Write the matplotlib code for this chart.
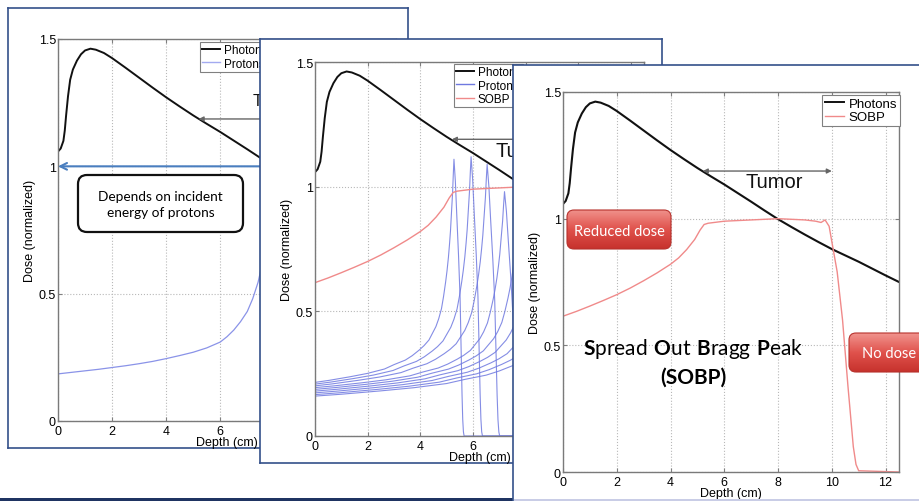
import numpy as np
import matplotlib
matplotlib.use("Agg")
import matplotlib.pyplot as plt
from matplotlib.patches import FancyBboxPatch, Rectangle
from matplotlib.transforms import IdentityTransform
from matplotlib.colors import LinearSegmentedColormap

plt.rcParams['font.family'] = 'Liberation Sans'
plt.rcParams['mathtext.fontset'] = 'custom'
plt.rcParams['mathtext.rm'] = 'Lato'
plt.rcParams['mathtext.bf'] = 'Lato:bold'

W, H = 920, 502

# depth-dose curves (depth in cm, dose normalized)
photon_depth = [0, 0.1, 0.2, 0.25, 0.3, 0.37, 0.45, 0.55, 0.7, 0.85, 1.0, 1.2, 1.4, 1.7,
                2, 2.5, 3, 3.5, 4, 4.5, 5, 5.5, 6, 6.5, 7, 7.5, 8, 8.5, 9, 9.5, 10,
                10.5, 11, 11.5, 12, 12.5]
photon_dose = [1.058, 1.07, 1.1, 1.14, 1.2, 1.275, 1.34, 1.38, 1.415, 1.44, 1.455, 1.462,
               1.458, 1.445, 1.425, 1.387, 1.348, 1.309, 1.271, 1.235, 1.2, 1.167, 1.135,
               1.101, 1.067, 1.032, 0.998, 0.967, 0.937, 0.908, 0.88, 0.855, 0.83, 0.803,
               0.776, 0.75]

proton_depth = [0, 0.5, 1, 1.5, 2, 2.5, 3, 3.5, 4, 4.5, 5, 5.5, 6, 6.25, 6.5, 6.75, 7.0,
                7.2, 7.4, 7.6, 7.8, 8.0]
proton_dose = [0.185, 0.191, 0.197, 0.203, 0.21, 0.217, 0.225, 0.234, 0.245, 0.257, 0.27,
               0.287, 0.31, 0.331, 0.357, 0.39, 0.43, 0.48, 0.545, 0.64, 0.78, 1.0]

sobp_depth = [0, 0.5, 1, 1.5, 2, 2.5, 3, 3.5, 4, 4.3, 4.6, 4.9, 5.1, 5.25, 5.4, 6, 7, 8,
              9, 9.4, 9.6, 9.75, 9.9, 10.05, 10.2, 10.4, 10.6, 10.8, 10.9, 11.0, 12.5]
sobp_dose = [0.615, 0.634, 0.655, 0.677, 0.70, 0.726, 0.755, 0.786, 0.82, 0.845, 0.878,
             0.918, 0.955, 0.977, 0.982, 0.99, 0.995, 1.0, 0.995, 0.99, 0.985, 0.995, 0.97,
             0.88, 0.79, 0.60, 0.34, 0.10, 0.03, 0.005, 0.0]

# pristine Bragg peak shape (depth as fraction of peak depth)
bragg_u = [0, 0.1, 0.25, 0.375, 0.5, 0.57, 0.65, 0.7, 0.75, 0.785, 0.82, 0.845, 0.87,
           0.89, 0.91, 0.925, 0.94, 0.95, 0.96, 0.968, 0.975, 0.982, 0.99, 0.995, 1.0]
bragg_rise = [0, 0.009, 0.025, 0.04, 0.06, 0.08, 0.10, 0.12, 0.145, 0.165, 0.19, 0.22,
              0.25, 0.285, 0.33, 0.385, 0.45, 0.5, 0.56, 0.62, 0.68, 0.76, 0.85, 0.93, 1.0]
fall_u = [1.01, 1.02, 1.033, 1.044, 1.052, 1.058, 1.063, 1.068, 1.073]
fall_frac = [0.92, 0.8, 0.65, 0.5, 0.3, 0.15, 0.06, 0.015, 0.0]

peak_depths = [5.28, 5.93, 6.54, 7.2, 7.8, 8.35, 8.9, 9.45, 10.0]
peak_heights = [1.11, 1.12, 1.09, 0.98, 1.0, 1.0, 1.0, 1.0, 1.0]
entrance_doses = [0.215, 0.208, 0.201, 0.194, 0.187, 0.180, 0.173, 0.166, 0.16]

FRAME = '#34508a'
BLACK = '#111111'
BLUE = '#6f79e0'
RED = '#f08a8a'

fig = plt.figure(figsize=(W / 100, H / 100), dpi=100)
fig.patch.set_facecolor('white')


def px_axes(x0, y0, x1, y1, z):
    return fig.add_axes([x0 / W, 1 - y1 / H, (x1 - x0) / W, (y1 - y0) / H], zorder=z)


def frame(x0, y0, x1, y1, z):
    fa = px_axes(x0, y0, x1, y1, z)
    fa.set_xticks([])
    fa.set_yticks([])
    fa.set_facecolor('white')
    for s in fa.spines.values():
        s.set_color(FRAME)
        s.set_linewidth(1.2)
    return fa


def dose_axes(x0, y0, x1, y1, z, fs):
    ax = px_axes(x0, y0, x1, y1, z)
    ax.set_facecolor('white')
    ax.set_xlim(0, 12.5)
    ax.set_ylim(0, 1.5)
    ax.set_xticks(range(0, 13, 2))
    ax.set_yticks([0, 0.5, 1, 1.5])
    ax.set_yticklabels(['0', '0.5', '1', '1.5'])
    ax.grid(True, ls=':', color='#b8b8b8', lw=0.8)
    ax.tick_params(direction='in', top=True, right=True, length=3, color='#808080',
                   labelsize=fs, width=0.8)
    ax.tick_params(axis='y', pad=1.5)
    ax.tick_params(axis='x', pad=3)
    for s in ax.spines.values():
        s.set_color('#7a7a7a')
        s.set_linewidth(1.0)
    ax.set_xlabel('Depth (cm)', fontsize=fs)
    ax.xaxis.set_label_coords(0.5, -15 / (y1 - y0))
    ax.set_ylabel('Dose (normalized)', fontsize=fs)
    ax.yaxis.set_label_coords(-22 / (x1 - x0), 0.5)
    return ax


def legend(ax, handles, labels, x, y, x0, y0, x1, y1, fs):
    lg = ax.legend(handles, labels, loc='upper left', fontsize=fs,
                   bbox_to_anchor=((x - x0) / (x1 - x0), 1 - (y - y0) / (y1 - y0)),
                   borderaxespad=0, fancybox=False, framealpha=1, edgecolor='#808080',
                   borderpad=0.2, labelspacing=0.1, handlelength=1.5, handletextpad=0.3)
    lg.get_frame().set_linewidth(0.8)
    lg.set_zorder(10)


def tumor(ax, y, tx, ty, fs):
    ax.annotate('', xy=(5.2, y), xytext=(10.0, y),
                arrowprops=dict(arrowstyle='<|-|>', color='#666666', lw=1,
                                mutation_scale=7, shrinkA=0, shrinkB=0))
    ax.text(tx, ty, 'Tumor', fontsize=fs, ha='left', va='center', color=BLACK)


def pix_box(x0, y0, x1, y1, r, **kw):
    return FancyBboxPatch((x0, H - y1), x1 - x0, y1 - y0,
                          boxstyle='round,pad=0,rounding_size=%g' % r,
                          transform=IdentityTransform(), **kw)


def red_box(x0, y0, x1, y1, label, z):
    bax = px_axes(x0 - 2, y0 - 2, x1 + 2, y1 + 2, z)
    bax.set_axis_off()
    grad = LinearSegmentedColormap.from_list('g', ['#f29a94', '#e0524c', '#c42f2a'])
    im = bax.imshow(np.linspace(0, 1, 64).reshape(-1, 1), cmap=grad, aspect='auto',
                    extent=[0, 1, 1, 0])
    clip = pix_box(x0, y0, x1, y1, 7)
    im.set_clip_path(clip)
    fig.add_artist(pix_box(x0, y0, x1, y1, 7, facecolor='none', edgecolor='#b7312c',
                           lw=0.8, zorder=z + 1))
    fig.text((x0 + x1) / 2 / W, 1 - ((y0 + y1) / 2 + 1) / H, label, color='white',
             fontsize=10.5, family='Lato', ha='center', va='center', zorder=z + 2)


# ---------- panel 1: single pristine peak ----------
frame(8, 9, 408, 449, 1)
p1 = (58, 40, 396, 422)
ax1 = dose_axes(*p1, 2, 9)
ax1.plot(photon_depth, photon_dose, color=BLACK, lw=1.4)
ax1.plot(proton_depth, proton_dose, color='#8a93e8', lw=0.9)
tumor(ax1, 1.186, 7.21, 1.257, 11.5)
ax1.annotate('', xy=(0, 1), xytext=(9, 1), annotation_clip=False,
             arrowprops=dict(arrowstyle='->', color='#4a7ebf', lw=1.5,
                             mutation_scale=12, shrinkA=0, shrinkB=0))
legend(ax1, [plt.Line2D([], [], color=BLACK, lw=1.4), plt.Line2D([], [], color='#a3aaf0', lw=1)],
       ['Photons', 'Protons'], 200, 43, *p1, 8.5)
fig.add_artist(pix_box(78, 176, 243, 233, 9, facecolor='white', edgecolor=BLACK,
                       lw=1.6, zorder=3))
fig.text(160.5 / W, 1 - 205 / H, 'Depends on incident\nenergy of protons', family='Lato',
         fontsize=9.8, ha='center', va='center', linespacing=1.35, zorder=3.1)

# ---------- panel 2: pristine peaks building the SOBP ----------
frame(260, 40, 662, 464, 4)
p2 = (315, 63, 644, 437)
ax2 = dose_axes(*p2, 5, 9)
ax2.plot(photon_depth, photon_dose, color=BLACK, lw=1.4)
for p, h, e in zip(peak_depths, peak_heights, entrance_doses):
    xs = [u * p for u in bragg_u] + [u * p for u in fall_u] + [12.5]
    ys = [e + (h - e) * s for s in bragg_rise] + [h * f for f in fall_frac] + [0]
    ax2.plot(xs, ys, color=BLUE, lw=0.8, alpha=0.85)
ax2.plot(sobp_depth, sobp_dose, color=RED, lw=1)
tumor(ax2, 1.19, 6.84, 1.147, 14.5)
legend(ax2, [plt.Line2D([], [], color=BLACK, lw=1.4), plt.Line2D([], [], color=BLUE, lw=1),
             plt.Line2D([], [], color=RED, lw=1)],
       ['Photons', 'Protons', 'SOBP'], 454, 65, *p2, 8.5)

# ---------- panel 3: photons vs SOBP ----------
frame(513, 66, 935, 515, 7)
p3 = (563, 93, 899, 473)
ax3 = dose_axes(*p3, 8, 9)
ax3.plot(photon_depth, photon_dose, color=BLACK, lw=1.5)
ax3.plot(sobp_depth, sobp_dose, color=RED, lw=1)
tumor(ax3, 1.188, 6.8, 1.145, 14.5)
legend(ax3, [plt.Line2D([], [], color=BLACK, lw=1.4), plt.Line2D([], [], color=RED, lw=1)],
       ['Photons', 'SOBP'], 822, 96, *p3, 9.5)

fig.text(693 / W, 1 - 349 / H,
         r'$\mathbf{S}\mathrm{pread}\ \mathbf{O}\mathrm{ut}\ \mathbf{B}\mathrm{ragg}\ \mathbf{P}\mathrm{eak}$',
         fontsize=15, ha='center', va='center', zorder=9)
fig.text(693 / W, 1 - 378 / H, '(SOBP)', family='Lato', fontweight='bold', fontsize=15,
         ha='center', va='center', zorder=9)
red_box(567, 211, 671, 250, 'Reduced dose', 10)
red_box(849, 334, 930, 373, 'No dose', 10)

# slide footer band
fig.add_artist(Rectangle((0, 0), 513 / W, 3.5 / H, transform=fig.transFigure,
                         facecolor='#1f3462', edgecolor='none', zorder=0.5))
fig.add_artist(Rectangle((514 / W, 0), 1, 2.5 / H, transform=fig.transFigure,
                         facecolor='#c9cde6', edgecolor='none', zorder=9))

fig.savefig('out.png', dpi=100)
